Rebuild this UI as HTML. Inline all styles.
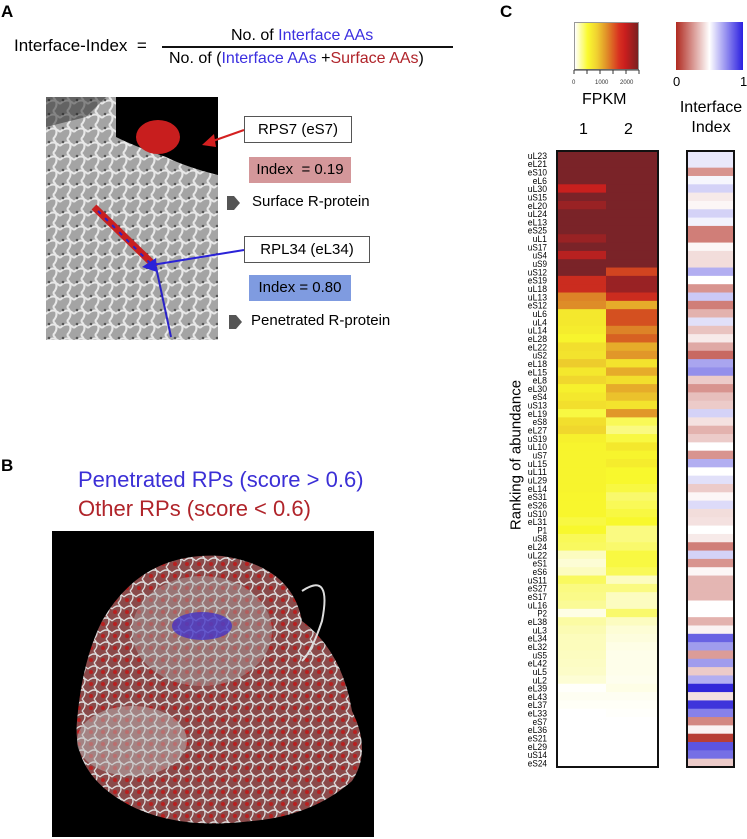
<!DOCTYPE html>
<html><head><meta charset="utf-8">
<style>
body{margin:0;width:747px;height:839px;background:#fff;font-family:"Liberation Sans",sans-serif;position:relative;overflow:hidden}
.a{position:absolute;white-space:nowrap}
.box{position:absolute;border:1px solid #555;background:#fff;font-size:15px;text-align:center;box-sizing:border-box}
</style></head><body>
<div class="a" style="left:1px;top:2px;font-size:17px;font-weight:bold">A</div>
<div class="a" style="left:14px;top:36px;font-size:17px">Interface-Index &nbsp;=</div>
<div class="a" style="left:231px;top:27px;font-size:16px">No. of <span style="color:#3b2fe0">Interface AAs</span></div>
<div class="a" style="left:162px;top:46px;width:291px;height:2px;background:#111"></div>
<div class="a" style="left:169px;top:50px;font-size:16px">No. of (<span style="color:#3b2fe0">Interface AAs</span> +<span style="color:#b0242a">Surface AAs</span>)</div>

<svg class="a" style="left:46px;top:97px" width="172" height="243">
<defs><pattern id="tx" width="14" height="14" patternUnits="userSpaceOnUse"><rect width="14" height="14" fill="#a4a4a4"/><path d="M0 7 Q7 0 14 7 M7 0 Q14 7 7 14" stroke="#e8e8e8" stroke-width="2" fill="none"/><circle cx="3" cy="3" r="1.3" fill="#555"/></pattern></defs>
<rect width="172" height="243" fill="url(#tx)"/>
<path d="M70 0 L172 0 L172 78 Q140 70 120 60 Q90 50 70 40 Z" fill="#000"/>
<path d="M0 0 L60 0 L40 20 L0 30Z" fill="#222" opacity=".5"/>
<ellipse cx="112" cy="40" rx="22" ry="17" fill="#c81e1e"/>
<path d="M48 110 L110 170" stroke="#c82020" stroke-width="7"/>
<path d="M52 114 L110 172" stroke="#2a22c8" stroke-width="2" stroke-dasharray="4 6"/>
<path d="M110 170 L125 240" stroke="#2a22c8" stroke-width="2"/>
</svg>

<svg class="a" style="left:0;top:0" width="260" height="340">
<line x1="244" y1="130" x2="210" y2="142" stroke="#d42020" stroke-width="2"/><polygon points="202,145 214,134 216,147" fill="#d42020"/>
<line x1="244" y1="250" x2="152" y2="265" stroke="#2a22d8" stroke-width="2"/><polygon points="142,267 156,258 157,272" fill="#2a22d8"/>
<polygon points="227,196 234,196 240,203 234,210 227,210" fill="#555"/>
<polygon points="229,315 236,315 242,322 236,329 229,329" fill="#555"/>
</svg>
<div class="box" style="left:244px;top:116px;width:108px;height:27px;line-height:25px">RPS7 (eS7)</div>
<div class="a" style="left:249px;top:157px;width:102px;height:26px;background:#d4979a;font-size:15px;text-align:center;line-height:26px">Index &nbsp;= 0.19</div>
<div class="a" style="left:252px;top:193px;font-size:15px">Surface R-protein</div>
<div class="box" style="left:244px;top:236px;width:126px;height:27px;line-height:25px">RPL34 (eL34)</div>
<div class="a" style="left:249px;top:275px;width:102px;height:26px;background:#7f9be0;font-size:15px;text-align:center;line-height:26px">Index = 0.80</div>
<div class="a" style="left:251px;top:312px;font-size:15px">Penetrated R-protein</div>

<div class="a" style="left:1px;top:456px;font-size:17px;font-weight:bold">B</div>
<div class="a" style="left:78px;top:467px;font-size:22px;color:#3b2fd6">Penetrated RPs (score &gt; 0.6)</div>
<div class="a" style="left:78px;top:496px;font-size:22px;color:#b0242a">Other RPs (score &lt; 0.6)</div>
<svg class="a" style="left:52px;top:531px" width="322" height="306">
<defs><pattern id="tx2" width="12" height="12" patternUnits="userSpaceOnUse"><rect width="12" height="12" fill="#8a4a4a"/><path d="M0 6 Q6 0 12 6 M6 0 Q12 6 6 12" stroke="#ddd" stroke-width="1.3" fill="none"/><circle cx="3" cy="9" r="2" fill="#b82020"/></pattern></defs>
<rect width="322" height="306" fill="#000"/>
<path d="M50 90 Q90 20 170 25 Q240 35 250 90 Q290 120 300 180 Q320 220 300 250 Q260 285 200 290 Q120 300 70 270 Q20 240 25 190 Q30 130 50 90Z" fill="url(#tx2)"/>
<ellipse cx="150" cy="100" rx="70" ry="55" fill="#aaa" opacity=".45"/>
<ellipse cx="150" cy="95" rx="30" ry="14" fill="#3a2bd0" opacity=".7"/>
<ellipse cx="80" cy="210" rx="55" ry="35" fill="#bbb" opacity=".5"/>
<path d="M250 60 Q280 40 270 90 Q260 120 250 130" stroke="#ddd" stroke-width="2" fill="none"/>
</svg>

<div class="a" style="left:500px;top:2px;font-size:17px;font-weight:bold">C</div>
<div class="a" style="left:574px;top:22px;width:65px;height:48px;border:1px solid #999;box-sizing:border-box;background:linear-gradient(to right,#fff 0%,#fafa30 20%,#f0d030 35%,#e09028 50%,#d83020 70%,#c81e1e 80%,#7a2020 100%)"></div>
<svg class="a" style="left:570px;top:68px" width="75" height="20">
<g stroke="#333"><line x1="4" y1="2" x2="4" y2="6"/><line x1="17" y1="2" x2="17" y2="6"/><line x1="30" y1="2" x2="30" y2="6"/><line x1="43" y1="2" x2="43" y2="6"/><line x1="56" y1="2" x2="56" y2="6"/><line x1="69" y1="2" x2="69" y2="6"/><line x1="4" y1="2" x2="69" y2="2"/></g>
<g font-size="6" fill="#333" font-family="Liberation Sans"><text x="2" y="16">0</text><text x="25" y="16">1000</text><text x="50" y="16">2000</text></g></svg>
<div class="a" style="left:582px;top:91px;font-size:16px">FPKM</div>
<div class="a" style="left:579px;top:121px;font-size:16px">1</div>
<div class="a" style="left:624px;top:121px;font-size:16px">2</div>
<div class="a" style="left:676px;top:22px;width:67px;height:48px;background:linear-gradient(to right,#b02a20,#fff 50%,#2a1ee0)"></div>
<div class="a" style="left:673px;top:74px;font-size:13px">0</div>
<div class="a" style="left:740px;top:74px;font-size:13px">1</div>
<div class="a" style="left:676px;top:98px;font-size:16px;text-align:center;width:70px;line-height:20px;white-space:normal">Interface Index</div>
<div class="a" style="left:516px;top:455px;font-size:15px;transform:translate(-50%,-50%) rotate(-90deg)">Ranking of abundance</div>

<svg class="a" id="hm" style="left:0;top:0" width="747" height="839"></svg>
<script>
const labels=["uL23","eL21","eS10","eL6","uL30","uS15","eL20","uL24","eL13","eS25","uL1","uS17","uS4","uS9","uS12","eS19","uL18","uL13","eS12","uL6","uL4","uL14","eL28","eL22","uS2","eL18","eL15","eL8","eL30","eS4","uS13","eL19","eS8","eL27","uS19","uL10","uS7","uL15","uL11","uL29","eL14","eS31","eS26","uS10","eL31","P1","uS8","eL24","uL22","eS1","eS6","uS11","eS27","eS17","uL16","P2","eL38","uL3","eL34","eL32","uS5","eL42","uL5","uL2","eL39","eL43","eL37","eL33","eS7","eL36","eS21","eL29","uS14","eS24"];
const fpkm1=[2500,2500,2500,2500,2000,2500,2300,2500,2500,2500,2300,2500,2100,2500,2500,1900,1900,1300,1250,700,700,650,550,800,750,950,700,900,600,700,800,450,800,900,600,550,550,550,550,550,550,520,520,520,450,500,400,380,150,100,150,380,300,280,250,60,220,180,160,160,150,140,130,100,10,30,20,0,0,0,0,0,0,0];
const fpkm2=[2500,2500,2500,2500,2500,2500,2500,2500,2500,2500,2500,2500,2500,2500,1700,2300,2300,1900,1100,1600,1600,1300,1500,1100,1200,750,1100,800,1100,1000,750,1200,400,300,450,700,550,650,500,500,450,350,400,450,500,300,300,350,450,450,400,150,300,150,150,350,150,100,80,60,50,50,50,40,60,30,20,10,0,0,0,0,0,0];
const iface=[0.55,0.55,0.25,0.52,0.6,0.45,0.48,0.6,0.53,0.2,0.2,0.48,0.42,0.42,0.68,0.5,0.25,0.62,0.2,0.32,0.57,0.36,0.45,0.3,0.15,0.7,0.75,0.38,0.25,0.35,0.38,0.6,0.43,0.32,0.38,0.5,0.25,0.68,0.5,0.57,0.38,0.48,0.58,0.42,0.43,0.5,0.45,0.2,0.6,0.25,0.48,0.33,0.33,0.33,0.5,0.5,0.32,0.47,0.85,0.72,0.27,0.72,0.38,0.68,0.98,0.43,0.95,0.78,0.22,0.47,0.05,0.88,0.82,0.38];
const NS="http://www.w3.org/2000/svg";
const svg=document.getElementById('hm');
const top0=151,bot=767,rowH=(bot-top0)/labels.length;
const yOf=i=>top0+i*rowH;
const fStops=[[0,[255,255,255]],[250,[250,250,150]],[500,[248,248,45]],[900,[240,215,45]],[1250,[222,140,40]],[1600,[212,80,32]],[2000,[200,32,30]],[2500,[122,35,40]]];
function lerp(st,v){for(let k=1;k<st.length;k++){if(v<=st[k][0]){const a=st[k-1],b=st[k],t=(v-a[0])/(b[0]-a[0]);return 'rgb('+a[1].map((c,j)=>Math.round(c+(b[1][j]-c)*t)).join(',')+')';}}const l=st[st.length-1][1];return 'rgb('+l.join(',')+')';}
const iStops=[[0,[176,40,30]],[0.5,[255,255,255]],[1,[40,30,215]]];
function rect(x,y,w,h,fill,name){const r=document.createElementNS(NS,'rect');r.setAttribute('x',x);r.setAttribute('y',y);r.setAttribute('width',w);r.setAttribute('height',h+0.5);r.setAttribute('fill',fill);


svg.appendChild(r);}
labels.forEach((lb,i)=>{
 const y=yOf(i);
 rect(557,y,49,rowH,lerp(fStops,fpkm1[i]),'cell-1-'+lb);
 rect(606,y,52,rowH,lerp(fStops,fpkm2[i]),'cell-2-'+lb);
 rect(687,y,47,rowH,lerp(iStops,iface[i]),'iface-'+lb);
 const t=document.createElementNS(NS,'text');t.setAttribute('x',547);t.setAttribute('y',y+rowH-0.5);t.setAttribute('text-anchor','end');t.setAttribute('font-size','9');t.setAttribute('textLength',lb.length*4.8);t.setAttribute('lengthAdjust','spacingAndGlyphs');t.setAttribute('font-family','Liberation Sans');t.textContent=lb;
 
 
 svg.appendChild(t);
});
[[557,101],[687,47]].forEach(([x,w])=>{const r=document.createElementNS(NS,'rect');r.setAttribute('x',x);r.setAttribute('y',top0);r.setAttribute('width',w);r.setAttribute('height',bot-top0);r.setAttribute('fill','none');r.setAttribute('stroke','#111');r.setAttribute('stroke-width','2');


svg.appendChild(r);});
</script>
</body></html>
